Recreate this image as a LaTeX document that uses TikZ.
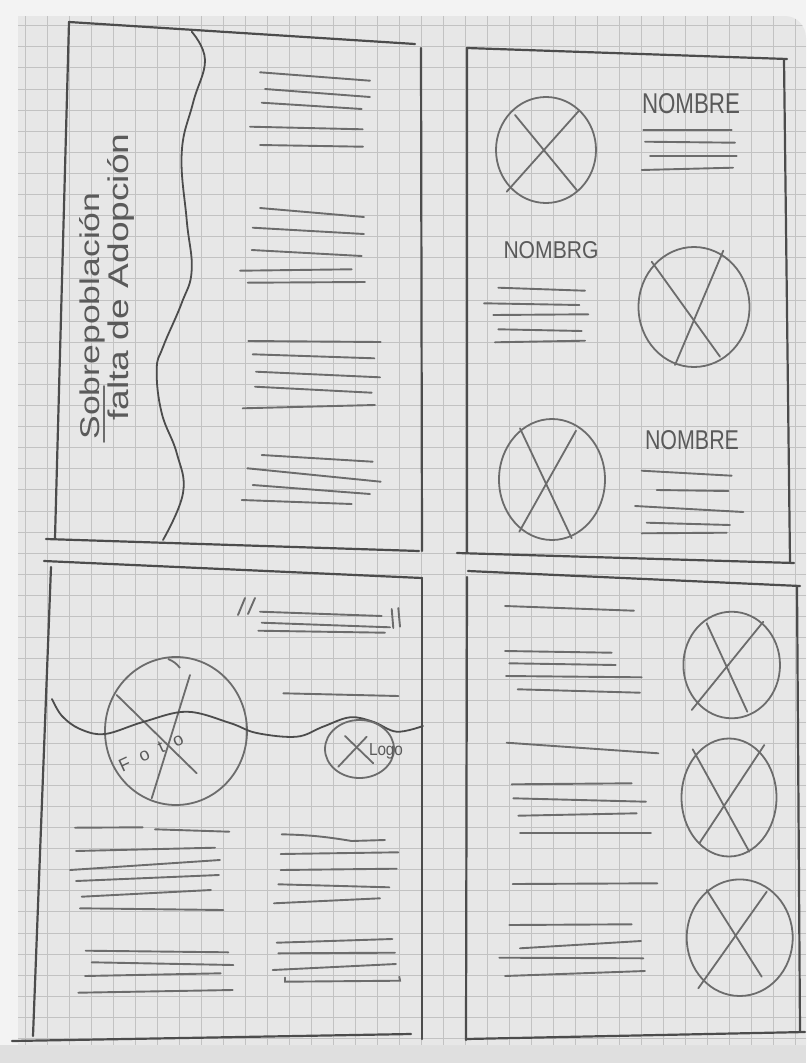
\documentclass[tikz,border=0pt]{standalone}
\usepackage{fontspec}
\setmainfont{Liberation Sans}
\usepackage{graphicx}
\definecolor{penD}{HTML}{4C4C4C}
\definecolor{penL}{HTML}{6C6C6C}
\definecolor{penT}{HTML}{5A5A5A}
\definecolor{paper}{HTML}{E7E7E7}
\definecolor{gridc}{HTML}{C2C2C2}
\definecolor{outside}{HTML}{F3F3F3}
\begin{document}
\begin{tikzpicture}[x=1pt,y=-1pt,
  frame/.style={draw=penD, line width=2.2pt, line cap=round, line join=round},
  wave/.style={draw=penD, line width=1.8pt, line cap=round},
  txt/.style={draw=penL, line width=1.9pt, line cap=round},
  ring/.style={draw=penL, line width=1.8pt},
  cross/.style={draw=penL, line width=1.8pt, line cap=round},
  gridline/.style={draw=gridc, line width=0.9pt},
  lbl/.style={text=penT, inner sep=0pt},
]
% page
\fill[outside] (0,0) rectangle (806,1063);
\fill[gray!25] (0,1045) rectangle (806,1063);
\fill[paper] (18,16) -- (785,16) to[out=0,in=90] (806,38) -- (806,1045) -- (18,1045) -- cycle;
\begin{scope}
\clip (18,16) -- (785,16) to[out=0,in=90] (806,38) -- (806,1045) -- (18,1045) -- cycle;
\foreach \i in {0,...,37} \draw[gridline] ({3.3+22*\i},16) -- ({3.3+22*\i},1045);
\foreach \j in {0,...,50} \draw[gridline] (18,{4.6+21.1*\j}) -- (806,{4.6+21.1*\j});
\end{scope}

% ---------- top-left panel ----------
\draw[frame] (55,538) -- (69,22) -- (415,44);
\draw[frame] (421,48) -- (422,551);
\draw[frame] (46,539) -- (419,551);
\draw[wave] plot[smooth, tension=0.7] coordinates {(191.7,31.7) (205,60) (193,103) (181.7,153) (186.7,220) (191.7,270) (181.7,303) (163,347) (156.7,370) (161.7,413) (176.7,453) (183,493) (163,540)};
\foreach \a/\b/\c/\d in {260/72.3/370/80.7, 265/89/370/97, 261.7/102.7/361.7/109, 250/126.7/362.7/129.3, 260/145/363/146.7,
  260/208/364/217, 252.7/227.7/364/234, 251.7/250/361.7/256, 240/270.7/351.7/269.3, 247.7/282.7/365/282,
  248.3/341/380.7/342, 252.7/354.3/374.3/358.3, 256/371.7/380/377.3, 255/386.7/371.7/392.7, 242.7/408.3/375/405,
  261.7/455/372.7/461.7, 247.3/468.3/380.7/481.7, 252.7/485/370/494, 241.7/500/351.7/504}
  \draw[txt] (\a,\b) -- (\c,\d);
\node[lbl, rotate=90] (t1) at (92,316) {\resizebox{247pt}{20pt}{Sobrepoblación}};
\node[lbl, rotate=90] (t2) at (121,277) {\resizebox{287pt}{21pt}{falta de Adopción}};
\draw[txt, line width=1.6pt] (104,442) -- (104,386);

% ---------- top-right panel ----------
\draw[frame] (467,553) -- (467,48) -- (787,59);
\draw[frame] (784,59) -- (790,562);
\draw[frame] (457,553) -- (794,563);
% item 1
\draw[ring] (546,150) ellipse [x radius=50, y radius=53];
\draw[cross] (515,115) -- (576.7,190);
\draw[cross] (579,110.7) -- (506.7,191.7);
\node[lbl] (n1) at (691,104) {\resizebox{98pt}{20pt}{NOMBRE}};
\foreach \a/\b/\c/\d in {643.3/130/731.7/130, 645/141.7/735/142.7, 650/156/736.7/156, 641.7/170/733/167.7}
  \draw[txt] (\a,\b) -- (\c,\d);
% item 2
\node[lbl] (n2) at (551,250) {\resizebox{95pt}{17pt}{NOMBRG}};
\foreach \a/\b/\c/\d in {498.3/287.7/585/290.7, 484/303.3/579.3/305, 493.3/315/588.3/314.3, 498.3/329.3/581.7/331, 495/342.3/585/340.7}
  \draw[txt] (\a,\b) -- (\c,\d);
\draw[ring] (694,307) ellipse [x radius=55.5, y radius=60];
\draw[cross] (651.7,261.7) -- (720,356.7);
\draw[cross] (723.3,250.7) -- (675,365);
% item 3
\draw[ring] (552,479.5) ellipse [x radius=53, y radius=60.5];
\draw[cross] (520,428.3) -- (571.7,538.3);
\draw[cross] (576,430.7) -- (519.3,531.7);
\node[lbl] (n3) at (692,440) {\resizebox{94pt}{19pt}{NOMBRE}};
\foreach \a/\b/\c/\d in {641.7/470.7/731.7/475.7, 656.7/490/728.3/491, 635/506/743.3/512, 646.7/522.7/730/525, 641.7/533.3/726.7/532.7}
  \draw[txt] (\a,\b) -- (\c,\d);

% ---------- bottom-left panel ----------
\draw[frame] (44,561) -- (422,578);
\draw[frame] (51,567) -- (33,1036);
\draw[frame] (422,578) -- (422,1039);
\draw[frame] (12,1041) -- (411,1034);
% quote
\draw[txt] (245,598) -- (238,615);
\draw[txt] (255,598) -- (248,614);
\draw[txt] (260,611.7) -- (381.7,616);
\draw[txt] (261.7,622.7) -- (390,627.3);
\draw[txt] (258.3,630.7) -- (385,632.7);
\draw[txt] (391.7,609) -- (393.3,628);
\draw[txt] (398.3,608) -- (400,626.7);
% photo + logo header
\draw[ring] (176,731) ellipse [x radius=71, y radius=74];
\draw[ring] (168,659) to[bend left=15] (180,668);
\draw[cross] (116.7,695) -- (196.7,773.3);
\draw[cross] (190,675) -- (151.7,798.3);
\node[lbl, rotate=25] (foto) at (151,752) {\fontsize{18pt}{18pt}\selectfont F\hspace{11pt}o\hspace{11pt}t\hspace{11pt}o};
\draw[wave] plot[smooth, tension=0.6] coordinates {(52,699) (62,716) (80,729) (105,734) (143,722) (186.7,711.7) (230,723) (256.7,733) (296.7,736.7) (323,726.7) (350,717.3) (373,721.7) (396.7,731.7) (423,726)};
\draw[txt] (283.3,693.3) -- (398.3,696);
\draw[ring] (359.5,749) ellipse [x radius=34.5, y radius=29];
\draw[cross] (345,736) -- (373.3,763.3);
\draw[cross] (366.7,736.7) -- (338.3,766.7);
\node[lbl] (logo) at (386,751) {\resizebox{34pt}{12pt}{Logo}};
% text columns
\foreach \a/\b/\c/\d in {75/827.7/142.7/827.3, 155/829.3/229.3/831.7, 76/851/215/847.7, 70/870/220/860, 76/881/219/875,
  81.7/896.7/211/890, 80/908.3/223.3/910, 85.7/950.7/228.3/952.3, 91.7/962.3/233.3/965, 85/976/220.7/973.3, 78.3/992.7/232.7/990,
  280.7/854/398.3/852.3, 280.7/870/396.7/868.7, 278.3/884.3/389.3/887.3, 274/903.3/380/898.3,
  276.7/942.7/392.3/939, 278.3/953.3/395/952.7, 272.7/970/396/964}
  \draw[txt] (\a,\b) -- (\c,\d);
\draw[txt] (281.7,834.3) to[bend left=4] (351.7,841) -- (385,840);
\draw[txt] (285,977.5) -- (285,981.7) -- (400,980.7) -- (399.3,976.7);

% ---------- bottom-right panel ----------
\draw[frame] (468,571) -- (800,586);
\draw[frame] (467,577) -- (466,1040);
\draw[frame] (797,586) -- (800,1032);
\draw[frame] (466,1039) -- (805,1032);
\foreach \a/\b/\c/\d in {505/606/634/610.7,
  505/651/611.7/652.7, 509.3/663.3/615.7/665, 506/676/641.7/677.3, 517.7/689.3/640/692.7,
  506.7/742.7/658.3/753.3,
  511.7/784.3/631.7/783.3, 513.3/798.3/646/801.7, 518.3/815.7/636.7/813.3, 520/833.3/651/833.3,
  512.7/884/657.3/883.3,
  509.3/925/631.7/924.3, 520/948.3/641/941, 499.3/957.7/643.3/958.3, 505/976/645/971}
  \draw[txt] (\a,\b) -- (\c,\d);
\draw[ring] (731.7,665) ellipse [x radius=48.3, y radius=53.3];
\draw[cross] (706.7,623.3) -- (747.3,711.7);
\draw[cross] (763.3,621.7) -- (691.7,710);
\draw[ring] (729,797.5) ellipse [x radius=47.5, y radius=59];
\draw[cross] (692.7,749.3) -- (749.3,851.7);
\draw[cross] (764.3,745) -- (699.3,843.3);
\draw[ring] (739.7,937.7) ellipse [x radius=53, y radius=58.3];
\draw[cross] (706.7,890) -- (761.7,976.7);
\draw[cross] (766.7,891.7) -- (698.3,988.3);
\end{tikzpicture}
\end{document}
